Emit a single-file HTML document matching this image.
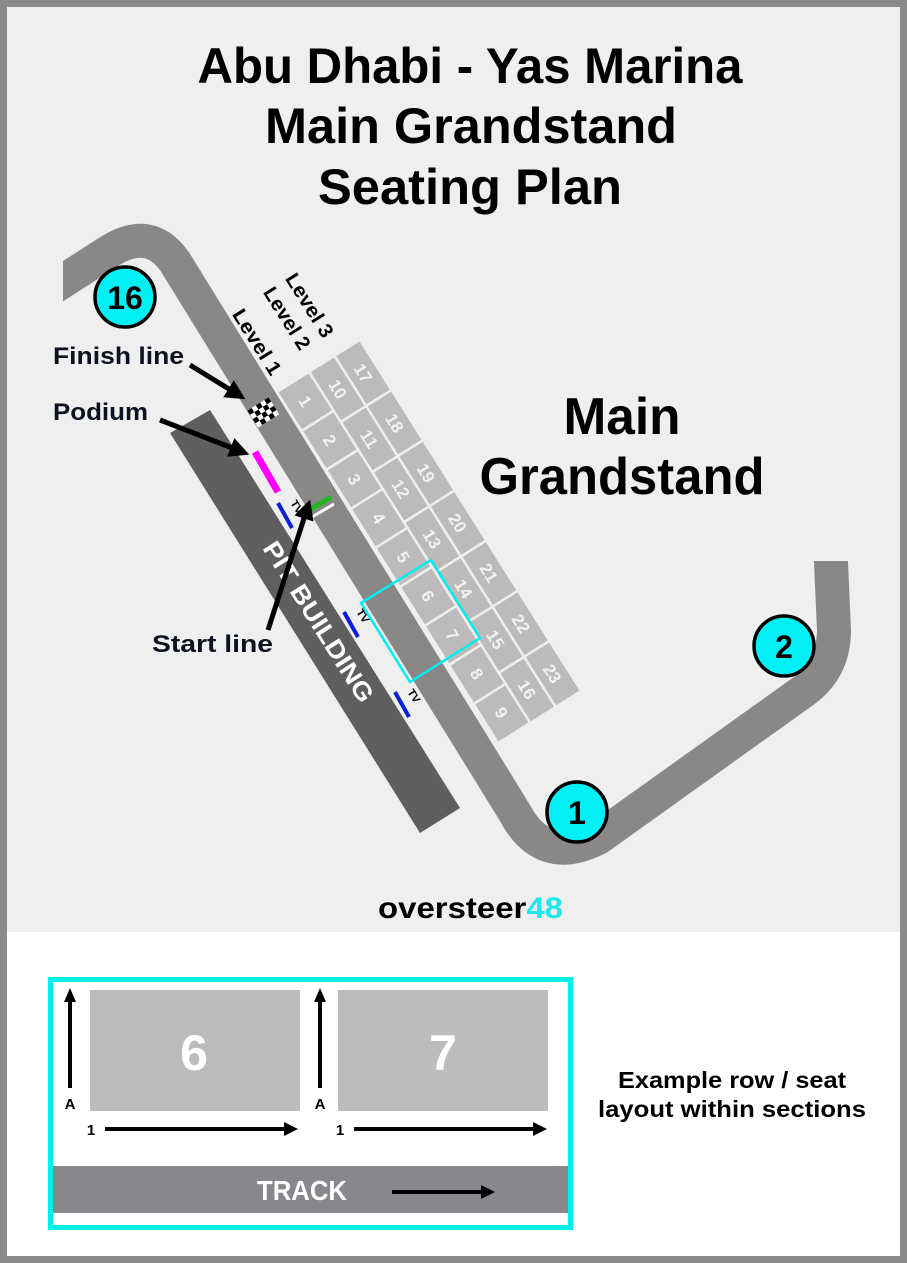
<!DOCTYPE html>
<html><head><meta charset="utf-8">
<style>
html,body{margin:0;padding:0;background:#8a8a8a;}
svg{display:block;}
text{font-family:"Liberation Sans",sans-serif;font-weight:bold;}
</style></head><body>
<svg width="907" height="1263" viewBox="0 0 907 1263" xmlns="http://www.w3.org/2000/svg">
<defs>
<clipPath id="c1"><rect x="63" y="0" width="840" height="932"/></clipPath>
<marker id="ah" markerWidth="4" markerHeight="4" refX="2" refY="2" orient="auto" markerUnits="strokeWidth"><path d="M0,0 L4,2 L0,4 z" fill="#000"/></marker>
</defs>
<rect x="0" y="0" width="907" height="1263" fill="#8a8a8a"/>
<rect x="7" y="7" width="893" height="925" fill="#efefef"/>
<rect x="7" y="932" width="893" height="324" fill="#ffffff"/>

<text x="470" y="83" font-size="50" text-anchor="middle" textLength="545" lengthAdjust="spacingAndGlyphs" fill="#000">Abu Dhabi - Yas Marina</text>
<text x="471" y="143" font-size="50" text-anchor="middle" textLength="412" lengthAdjust="spacingAndGlyphs" fill="#000">Main Grandstand</text>
<text x="470" y="204" font-size="50" text-anchor="middle" textLength="304" lengthAdjust="spacingAndGlyphs" fill="#000">Seating Plan</text>

<polygon points="170,433 210,410 460,808 420,833" fill="#5f5f5f"/>
<text transform="translate(262,548) rotate(57.8)" font-size="25" fill="#fff" textLength="185" lengthAdjust="spacingAndGlyphs">PIT BUILDING</text>

<g clip-path="url(#c1)">
<path d="M40,296 L110,251 Q150,226 175,262 L515,813 Q543,866 598,838 L805,690 Q834,668 834,630 L830,540" fill="none" stroke="#8a8787" stroke-width="34" stroke-linejoin="round"/>
</g>
<rect x="790" y="500" width="80" height="61" fill="#efefef"/>

<g transform="translate(277,392) rotate(57.8)" fill="#bcbaba" stroke="#efefef" stroke-width="2.5">
<g>
<rect x="0" y="-38" width="46.1" height="38"/><rect x="46.1" y="-38" width="46.1" height="38"/><rect x="92.2" y="-38" width="46.1" height="38"/>
<rect x="138.3" y="-38" width="46.1" height="38"/><rect x="184.4" y="-38" width="46.1" height="38"/><rect x="230.5" y="-38" width="46.1" height="38"/>
<rect x="276.6" y="-38" width="46.1" height="38"/><rect x="322.7" y="-38" width="46.1" height="38"/><rect x="368.8" y="-38" width="46.1" height="38"/>
</g>
<g>
<rect x="0" y="-68" width="59.3" height="30"/><rect x="59.3" y="-68" width="59.3" height="30"/><rect x="118.6" y="-68" width="59.3" height="30"/>
<rect x="177.9" y="-68" width="59.3" height="30"/><rect x="237.2" y="-68" width="59.3" height="30"/><rect x="296.5" y="-68" width="59.3" height="30"/>
<rect x="355.8" y="-68" width="59.3" height="30"/>
</g>
<g>
<rect x="0" y="-98" width="59.3" height="30"/><rect x="59.3" y="-98" width="59.3" height="30"/><rect x="118.6" y="-98" width="59.3" height="30"/>
<rect x="177.9" y="-98" width="59.3" height="30"/><rect x="237.2" y="-98" width="59.3" height="30"/><rect x="296.5" y="-98" width="59.3" height="30"/>
<rect x="355.8" y="-98" width="59.3" height="30"/>
</g>
<g fill="#f2f2f2" stroke="none" font-size="17" text-anchor="middle" style="font-weight:normal">
<text x="23" y="-13">1</text><text x="69" y="-13">2</text><text x="115" y="-13">3</text><text x="161" y="-13">4</text><text x="207" y="-13">5</text><text x="253" y="-13">6</text><text x="299" y="-13">7</text><text x="345" y="-13">8</text><text x="391" y="-13">9</text>
<text x="30" y="-47">10</text><text x="89" y="-47">11</text><text x="148" y="-47">12</text><text x="207" y="-47">13</text><text x="266" y="-47">14</text><text x="326" y="-47">15</text><text x="385" y="-47">16</text>
<text x="30" y="-77">17</text><text x="89" y="-77">18</text><text x="148" y="-77">19</text><text x="207" y="-77">20</text><text x="266" y="-77">21</text><text x="326" y="-77">22</text><text x="385" y="-77">23</text>
</g>
<g fill="#000" stroke="none" font-size="20">
<text x="-90" y="-3" textLength="74" lengthAdjust="spacingAndGlyphs">Level 1</text>
<text x="-92" y="-41" textLength="70" lengthAdjust="spacingAndGlyphs">Level 2</text>
<text x="-92" y="-67" textLength="72" lengthAdjust="spacingAndGlyphs">Level 3</text>
</g>
<g stroke="none">
<rect x="0" y="10" width="20" height="25" fill="#fff"/>
<g fill="#000">
<rect x="0" y="10" width="5" height="5"/><rect x="10" y="10" width="5" height="5"/>
<rect x="5" y="15" width="5" height="5"/><rect x="15" y="15" width="5" height="5"/>
<rect x="0" y="20" width="5" height="5"/><rect x="10" y="20" width="5" height="5"/>
<rect x="5" y="25" width="5" height="5"/><rect x="15" y="25" width="5" height="5"/>
<rect x="0" y="30" width="5" height="5"/><rect x="10" y="30" width="5" height="5"/>
</g>
</g>
</g>

<polygon points="361,603 431,560 480,638 410,682" fill="none" stroke="#00f0f0" stroke-width="2.5"/>

<line x1="255" y1="452" x2="278" y2="492" stroke="#ff00ff" stroke-width="7"/>
<line x1="308" y1="511" x2="331" y2="497" stroke="#1fb81f" stroke-width="5"/>
<line x1="312" y1="517" x2="334" y2="504" stroke="#fff" stroke-width="3"/>

<g stroke="#0a1fd8" stroke-width="4">
<line x1="278" y1="503" x2="292" y2="528"/>
<line x1="344" y1="612" x2="358" y2="637"/>
<line x1="395" y1="692" x2="409" y2="717"/>
</g>
<g font-size="11" fill="#000">
<text transform="translate(290,503) rotate(57.8)">TV</text>
<text transform="translate(356,612) rotate(57.8)">TV</text>
<text transform="translate(407,692) rotate(57.8)">TV</text>
</g>

<g stroke="#000" stroke-width="5" fill="none">
<line x1="190" y1="365" x2="237" y2="394" marker-end="url(#ah)"/>
<line x1="160" y1="420" x2="240" y2="451" marker-end="url(#ah)"/>
<line x1="268" y1="630" x2="307" y2="509" marker-end="url(#ah)"/>
</g>

<g fill="#0c1220" font-size="24">
<text x="53" y="364" textLength="131" lengthAdjust="spacingAndGlyphs">Finish line</text>
<text x="53" y="420" textLength="95" lengthAdjust="spacingAndGlyphs">Podium</text>
<text x="152" y="652" textLength="121" lengthAdjust="spacingAndGlyphs">Start line</text>
</g>
<text x="622" y="434" font-size="52" text-anchor="middle" textLength="117" lengthAdjust="spacingAndGlyphs" fill="#000">Main</text>
<text x="622" y="494" font-size="52" text-anchor="middle" textLength="285" lengthAdjust="spacingAndGlyphs" fill="#000">Grandstand</text>

<g fill="#00f0f5" stroke="#000" stroke-width="3.5">
<circle cx="125" cy="297" r="30"/>
<circle cx="577" cy="812" r="30"/>
<circle cx="784" cy="646" r="30"/>
</g>
<g font-size="32" text-anchor="middle" fill="#000">
<text x="125" y="309">16</text>
<text x="577" y="824">1</text>
<text x="784" y="658">2</text>
</g>

<text x="378" y="918" font-size="30" textLength="185" lengthAdjust="spacingAndGlyphs" fill="#000">oversteer<tspan fill="#1ee8ee">48</tspan></text>

<rect x="50.5" y="979.5" width="520" height="248" fill="#fff" stroke="#00f0ea" stroke-width="5"/>
<rect x="90" y="990" width="210" height="121" fill="#bbbcbe"/>
<rect x="338" y="990" width="210" height="121" fill="#bbbcbe"/>
<text x="194" y="1070" font-size="50" text-anchor="middle" fill="#fff">6</text>
<text x="443" y="1070" font-size="50" text-anchor="middle" fill="#fff">7</text>
<rect x="53" y="1166" width="515" height="47" fill="#87888b"/>
<text x="302" y="1200" font-size="28" text-anchor="middle" textLength="90" lengthAdjust="spacingAndGlyphs" fill="#fff">TRACK</text>
<g stroke="#000" stroke-width="4" fill="none">
<line x1="70" y1="1088" x2="70" y2="995"/>
<line x1="320" y1="1088" x2="320" y2="995"/>
<line x1="105" y1="1129" x2="287" y2="1129"/>
<line x1="354" y1="1129" x2="536" y2="1129"/>
<line x1="392" y1="1192" x2="484" y2="1192"/>
</g>
<g fill="#000">
<polygon points="70,988 64,1002 76,1002"/>
<polygon points="320,988 314,1002 326,1002"/>
<polygon points="298,1129 284,1122 284,1136"/>
<polygon points="547,1129 533,1122 533,1136"/>
<polygon points="495,1192 481,1185 481,1199"/>
</g>
<g font-size="15" fill="#000" text-anchor="middle">
<text x="70" y="1109">A</text>
<text x="320" y="1109">A</text>
<text x="91" y="1135">1</text>
<text x="340" y="1135">1</text>
</g>
<text x="732" y="1088" font-size="23" text-anchor="middle" textLength="228" lengthAdjust="spacingAndGlyphs" fill="#000">Example row / seat</text>
<text x="732" y="1117" font-size="23" text-anchor="middle" textLength="268" lengthAdjust="spacingAndGlyphs" fill="#000">layout within sections</text>
</svg>
</body></html>
